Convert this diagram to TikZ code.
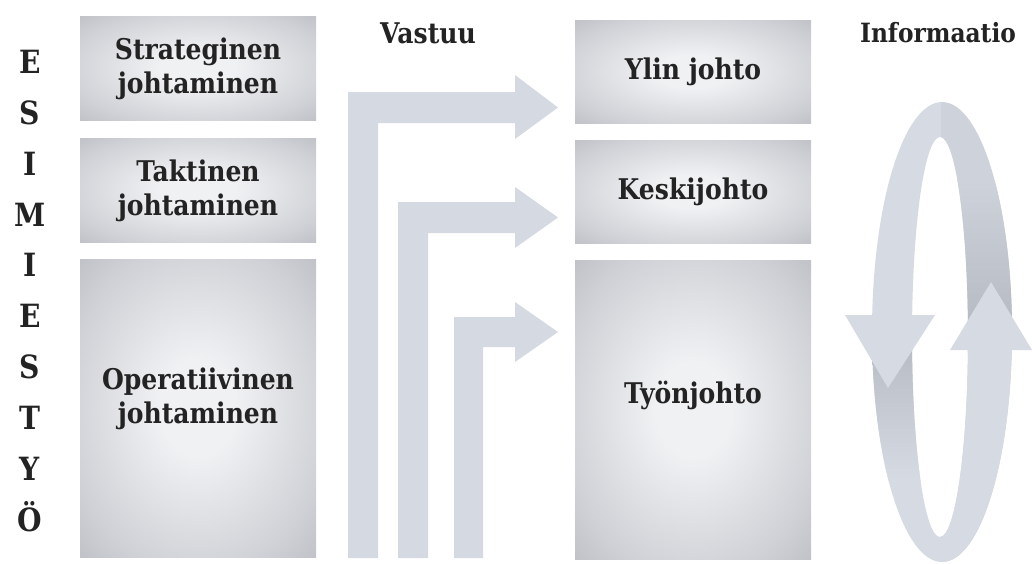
\documentclass[tikz,border=0pt]{standalone}
\usepackage{fontspec}
\setmainfont{DejaVu Serif}
\newfontfamily\slab[FakeStretch=0.88]{DejaVu Serif}
\definecolor{ink}{HTML}{232323}
\definecolor{boxin}{HTML}{F0F1F3}
\definecolor{boxmid}{HTML}{CFD1D6}
\definecolor{boxout}{HTML}{A2A5AD}
\definecolor{arrowfill}{HTML}{D5D9E1}
\definecolor{loopl}{HTML}{D6DAE2}
\definecolor{loopr}{HTML}{CED2DA}
\definecolor{loopd}{HTML}{B2B6BF}
\pgfdeclareradialshading{boxshade}{\pgfpoint{0bp}{0bp}}{color(0bp)=(boxin); color(8bp)=(boxin); color(28bp)=(boxmid); color(50bp)=(boxout); color(75bp)=(boxout)}
\begin{document}
\begin{tikzpicture}[x=1pt,y=-1pt]
\useasboundingbox (0,0) rectangle (1032,563);
\tikzset{
  box/.style={rectangle, minimum width=236pt, inner sep=0pt, shading=boxshade},
  lbl/.style={font=\slab\bfseries\fontsize{28.5}{34}\selectfont, text=ink, align=center},
  bigl/.style={font=\slab\bfseries\fontsize{32}{50.9}\selectfont, text=ink, align=center, inner sep=0pt},
  vastuuarrow/.style={fill=arrowfill},
}
% left column letters
\node[bigl] (esimies) at (30,291) {E\\S\\I\\M\\I\\E\\S\\T\\Y\\Ö};

% left boxes
\node[box, minimum height=104pt] (strat) at (198,68) {};
\node[lbl] (stratT) at ([yshift=-1pt]strat.center) {Strateginen\\johtaminen};
\node[box, minimum height=104pt] (takt) at (198,190) {};
\node[lbl] (taktT) at ([yshift=-1pt]takt.center) {Taktinen\\johtaminen};
\node[box, minimum height=298pt] (oper) at (198,408) {};
\node[lbl] (operT) at ([yshift=9pt]oper.center) {Operatiivinen\\johtaminen};

% right boxes
\node[box, minimum height=103pt] (ylin) at (693,71.5) {};
\node[lbl] (ylinT) at (ylin.center) {Ylin johto};
\node[box, minimum height=103pt] (kesk) at (693,191.5) {};
\node[lbl] (keskT) at (kesk.center) {Keskijohto};
\node[box, minimum height=299pt] (tyon) at (693,409.5) {};
\node[lbl] (tyonT) at ([yshift=14pt]tyon.center) {Työnjohto};

% headings
\node[lbl] (vastuu) at (428,33) {Vastuu};
\node[lbl, font=\slab\bfseries\fontsize{26.5}{34}\selectfont] (info) at (938,33) {Informaatio};

% Vastuu arrows
\fill[vastuuarrow] (348,558) -- (348,92) -- (515,92) -- (515,75) -- (558,107.5)
  -- (515,139) -- (515,123) -- (378,123) -- (378,558) -- cycle;
\fill[vastuuarrow] (398,558) -- (398,202) -- (515,202) -- (515,187) -- (558,217.5)
  -- (515,248) -- (515,233) -- (428,233) -- (428,558) -- cycle;
\fill[vastuuarrow] (454,558) -- (454,317) -- (515,317) -- (515,302) -- (558,332)
  -- (515,362) -- (515,347) -- (483,347) -- (483,558) -- cycle;

% Information loop
\begin{scope}[even odd rule]
  \clip (942,332) ellipse [x radius=70, y radius=230]
        (940,337) ellipse [x radius=28, y radius=200];
  \fill[loopl] (860,90) rectangle (941,570);
  \fill[loopr] (941,90) rectangle (1032,570);
  \shade[top color=loopr, bottom color=loopd] (941,180) rectangle (1032,352);
  \shade[top color=loopd, bottom color=loopl] (860,320) rectangle (941,480);
  \fill[loopl] (941,350) rectangle (1032,570);
\end{scope}
\fill[loopl] (845,315) -- (935,315) -- (888,388) -- cycle;
\fill[loopl] (950,350) -- (1032,350) -- (991,282) -- cycle;
\end{tikzpicture}
\end{document}
